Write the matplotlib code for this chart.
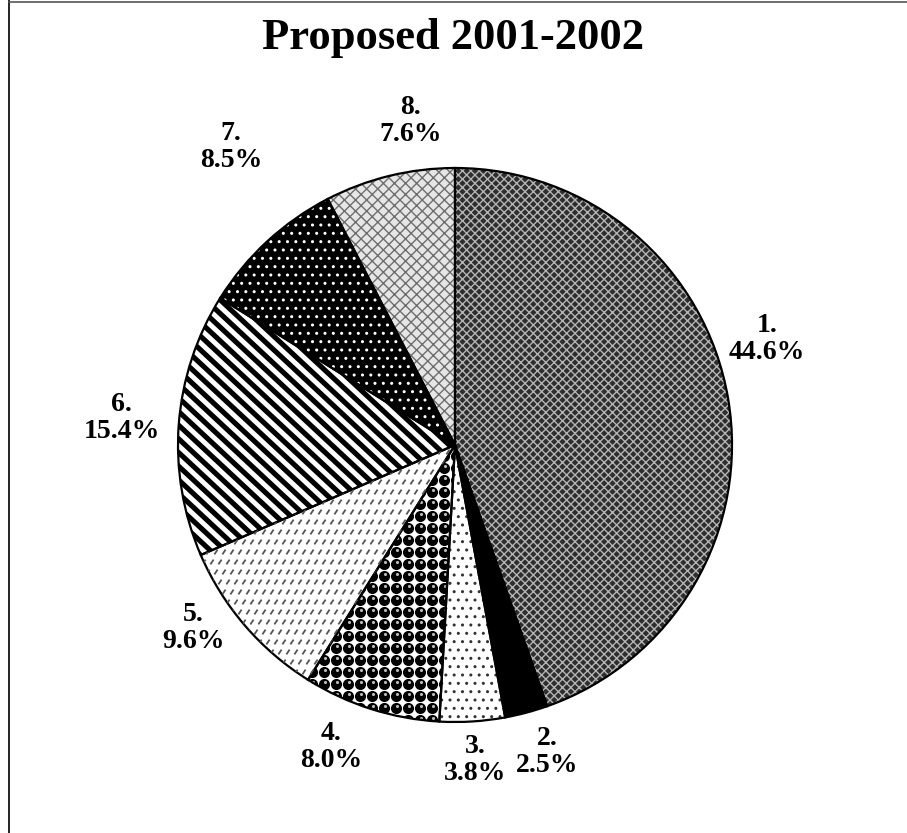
import numpy as np
import matplotlib
matplotlib.use('Agg')
import matplotlib.pyplot as plt
from matplotlib.lines import Line2D
from matplotlib.collections import LineCollection

plt.rcParams['font.family'] = ['Liberation Serif', 'DejaVu Serif']

# data
labels = ['1.', '2.', '3.', '4.', '5.', '6.', '7.', '8.']
shares = [44.6, 2.5, 3.8, 8.0, 9.6, 15.4, 8.5, 7.6]

# look of each slice: face, hatch, hatch colour
faces = ['#2e2e2e', 'black', 'white', 'white', 'white', 'white', 'black', '#e6e6e6']
hatches = ['xxxx', None, '..', None, None, None, '..', 'xxx']
hcolors = ['#b4b4b4', 'black', '#333333', 'black', '#8a8a8a', 'black', 'white', '#6e6e6e']
explode = [0.015, 0, 0, 0, 0, 0, 0, 0]

# label placement tweaks (deg, radius factor)
nudge = [9.0, 1.8, 0, -4.7, -5.7, -0.3, -5.7, -5.9]
ldist = [1.19, 1.157, 1.14, 1.18, 1.153, 1.207, 1.346, 1.18]

W, H = 907, 833
fig = plt.figure(figsize=(W / 100, H / 100), dpi=100)
ax = fig.add_axes([0, 0, 1, 1])

cx, cy, r = 455, H - 445, 277

# fill + hatch
wedges, _ = ax.pie(shares, explode=explode, startangle=90, counterclock=False,
                   center=(cx, cy), radius=r, frame=True,
                   wedgeprops=dict(linewidth=0))
for w, fc, ht, hc in zip(wedges, faces, hatches, hcolors):
    w.set_facecolor(fc)
    w.set_edgecolor(hc)
    w.set_linewidth(0)
    if ht:
        w.set_hatch(ht)


def grid(step_x, step_y):
    xs = np.arange(cx - r - 10, cx + r + 10, step_x)
    ys = np.arange(cy - r - 10, cy + r + 10, step_y)
    return np.meshgrid(xs, ys)


# slice 4: black balls on white
gx, gy = grid(12, 12)
balls = ax.scatter(gx.ravel(), gy.ravel(), s=64, c='black', linewidths=0)
balls.set_clip_path(wedges[3])
hl = ax.scatter(gx.ravel() + 1, gy.ravel() + 2, s=5, c='#bbbbbb', linewidths=0)
hl.set_clip_path(wedges[3])

# slice 5: short grey dashes in rows
gx, gy = grid(8, 10)
gx = gx + (np.arange(gx.shape[0])[:, None] % 2) * 4
dash = [[(x - 1.6, y - 2.4), (x + 1.6, y + 2.4)] for x, y in zip(gx.ravel(), gy.ravel())]
dashes = LineCollection(dash, colors='#555555', linewidths=1.3)
ax.add_collection(dashes)
dashes.set_clip_path(wedges[4])

# slice 6: wide diagonal stripes
th = np.deg2rad(43)
nx, ny = np.sin(th), np.cos(th)
dx, dy = np.cos(th), -np.sin(th)
cs = np.arange(-2 * r, 2 * r, 10.0)
segs = [[(cx + c * nx - 2 * r * dx, cy + c * ny - 2 * r * dy),
         (cx + c * nx + 2 * r * dx, cy + c * ny + 2 * r * dy)] for c in cs]
stripes = LineCollection(segs, colors='black', linewidths=3.7)
ax.add_collection(stripes)
stripes.set_clip_path(wedges[5])

# outlines
outl, _ = ax.pie(shares, explode=explode, startangle=90, counterclock=False,
                 center=(cx, cy), radius=r, frame=True,
                 wedgeprops=dict(facecolor='none', edgecolor='black', linewidth=1.6))
ax.set_xlim(0, W)
ax.set_ylim(0, H)
ax.set_aspect('equal')
ax.axis('off')

for w, lab, v, dn, d in zip(wedges, labels, shares, nudge, ldist):
    ang = np.deg2rad((w.theta1 + w.theta2) / 2 + dn)
    ax.text(cx + r * d * np.cos(ang), cy + r * d * np.sin(ang),
            '{}\n{:.1f}%'.format(lab, v), ha='center', va='center',
            fontsize=20, fontweight='bold', linespacing=1.1)

fig.text(0.5, 1 - 38 / H, 'Proposed 2001-2002', ha='center', va='center',
         fontsize=32, fontweight='bold')

# frame lines (left and top)
fig.add_artist(Line2D([8.5 / W, 8.5 / W], [0, 1], transform=fig.transFigure,
                      color='black', linewidth=1.2))
fig.add_artist(Line2D([8.5 / W, 1], [1 - 1.5 / H, 1 - 1.5 / H], transform=fig.transFigure,
                      color='#555555', linewidth=1.2))

fig.savefig('out.png', dpi=100, facecolor='white')
